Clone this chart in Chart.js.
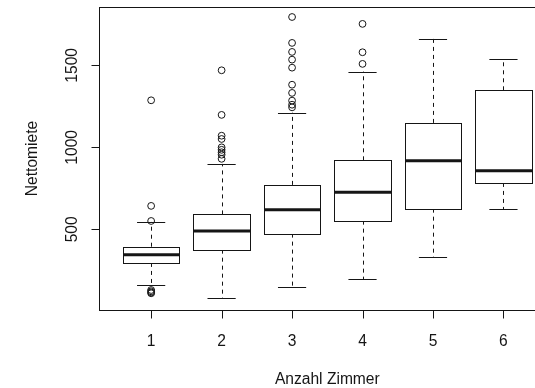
<!DOCTYPE html>
<html>
<head>
<meta charset="utf-8">
<script src="https://cdn.jsdelivr.net/npm/chart.js@4.4.1/dist/chart.umd.min.js"></script>
<style>
html, body { margin: 0; padding: 0; background: #fff; overflow: hidden; width: 535px; height: 388px; }
canvas { display: block; }
</style>
</head>
<body>
<canvas id="c" width="560" height="388"></canvas>
<script>
// --- DATEN ---
const categories = [1, 2, 3, 4, 5, 6];
const tickLabels = ['1', '2', '3', '4', '5', '6'];
const yTicks = [500, 1000, 1500];

const lowerWhisker = [158, 79, 148, 195, 329, 622];
const q1 = [295, 376, 474, 553, 626, 783];
const median = [345, 490, 620, 726, 919, 858];
const q3 = [394, 591, 771, 921, 1149, 1348];
const upperWhisker = [545, 899, 1212, 1462, 1663, 1541];

const outliers = [
    [1287, 643, 551, 130, 122, 115, 110],
    [1470, 1198, 1071, 1051, 1000, 985, 970, 955, 930],
    [1795, 1637, 1582, 1535, 1486, 1382, 1332, 1285, 1260, 1244],
    [1753, 1580, 1509],
    [],
    []
];

const xTitle = 'Anzahl Zimmer';
const yTitle = 'Nettomiete';

// --- STIL ---
const FONT = '15.6px "Liberation Sans", Arial, sans-serif';
const INK = '#151515';

// Punkte für die Ausreißer
const outlierPoints = [];
categories.forEach((c, i) => {
    outliers[i].forEach(v => outlierPoints.push({ x: c, y: v }));
});

const snap = v => Math.round(v) + 0.5;

// Boxen, Whisker, Achsen im Stil von R zeichnen
const boxPlugin = {
    id: 'rBoxplot',
    beforeDatasetsDraw(chart) {
        const { ctx, scales: { x, y } } = chart;
        const half = x.getPixelForValue(1.4) - x.getPixelForValue(1);
        const cap = half / 2;

        ctx.save();
        ctx.strokeStyle = INK;
        ctx.lineWidth = 1;

        categories.forEach((c, i) => {
            const cx = x.getPixelForValue(c);
            const yLo = y.getPixelForValue(lowerWhisker[i]);
            const yQ1 = y.getPixelForValue(q1[i]);
            const yMed = y.getPixelForValue(median[i]);
            const yQ3 = y.getPixelForValue(q3[i]);
            const yHi = y.getPixelForValue(upperWhisker[i]);

            // gestrichelte Whisker
            ctx.setLineDash([4, 4]);
            ctx.beginPath();
            ctx.moveTo(snap(cx), yQ3);
            ctx.lineTo(snap(cx), yHi);
            ctx.moveTo(snap(cx), yQ1);
            ctx.lineTo(snap(cx), yLo);
            ctx.stroke();
            ctx.setLineDash([]);

            // Endstriche
            ctx.beginPath();
            ctx.moveTo(cx - cap, snap(yHi));
            ctx.lineTo(cx + cap, snap(yHi));
            ctx.moveTo(cx - cap, snap(yLo));
            ctx.lineTo(cx + cap, snap(yLo));
            ctx.stroke();

            // Box
            ctx.fillStyle = '#fff';
            const l = snap(cx - half), r = snap(cx + half);
            const t = snap(yQ3), b = snap(yQ1);
            ctx.fillRect(l, t, r - l, b - t);
            ctx.strokeRect(l, t, r - l, b - t);

            // Median
            ctx.lineWidth = 3;
            ctx.beginPath();
            ctx.moveTo(l, yMed);
            ctx.lineTo(r, yMed);
            ctx.stroke();
            ctx.lineWidth = 1;
        });
        ctx.restore();
    },
    afterDraw(chart) {
        const { ctx, chartArea: a, scales: { x, y } } = chart;
        ctx.save();
        ctx.strokeStyle = INK;
        ctx.fillStyle = INK;
        ctx.lineWidth = 1;

        // Rahmen
        ctx.strokeRect(snap(a.left), snap(a.top), Math.round(a.right - a.left), Math.round(a.bottom - a.top));

        // Ticks
        ctx.beginPath();
        categories.forEach(c => {
            const px = snap(x.getPixelForValue(c));
            ctx.moveTo(px, snap(a.bottom));
            ctx.lineTo(px, snap(a.bottom) + 8);
        });
        yTicks.forEach(v => {
            const py = snap(y.getPixelForValue(v));
            ctx.moveTo(snap(a.left), py);
            ctx.lineTo(snap(a.left) - 8, py);
        });
        ctx.stroke();

        ctx.font = FONT;
        ctx.textAlign = 'center';
        ctx.textBaseline = 'alphabetic';

        // x-Beschriftung
        categories.forEach((c, i) => {
            ctx.fillText(tickLabels[i], x.getPixelForValue(c), a.bottom + 35.5);
        });
        ctx.fillText(xTitle, (a.left + a.right) / 2, a.bottom + 74);

        // y-Beschriftung (gedreht)
        yTicks.forEach(v => {
            ctx.save();
            ctx.translate(a.left - 22, y.getPixelForValue(v));
            ctx.rotate(-Math.PI / 2);
            ctx.fillText(String(v), 0, 0);
            ctx.restore();
        });
        ctx.save();
        ctx.translate(a.left - 62, (a.top + a.bottom) / 2);
        ctx.rotate(-Math.PI / 2);
        ctx.fillText(yTitle, 0, 0);
        ctx.restore();

        ctx.restore();
    }
};

new Chart(document.getElementById('c'), {
    type: 'scatter',
    data: {
        datasets: [{
            data: outlierPoints,
            pointStyle: 'circle',
            pointRadius: 3.4,
            pointHoverRadius: 3.4,
            borderWidth: 1,
            borderColor: INK,
            backgroundColor: 'rgba(0,0,0,0)'
        }]
    },
    options: {
        responsive: false,
        animation: false,
        events: [],
        layout: { padding: { left: 99, top: 7, right: 4, bottom: 78 } },
        plugins: { legend: { display: false }, tooltip: { enabled: false } },
        scales: {
            x: { type: 'linear', min: 0.26, max: 6.74, display: false },
            y: { type: 'linear', min: 8, max: 1856, display: false }
        }
    },
    plugins: [boxPlugin]
});
</script>
</body>
</html>
